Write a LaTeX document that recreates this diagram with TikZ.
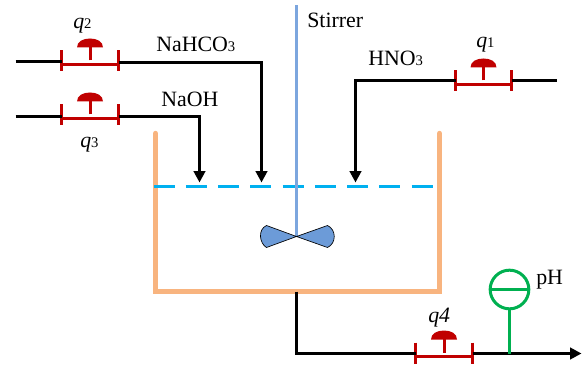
\documentclass[tikz,border=0pt]{standalone}
\usepackage{fontspec}
\setmainfont{Liberation Serif}
\usetikzlibrary{arrows.meta}
\definecolor{valvered}{HTML}{C00000}
\definecolor{tankor}{HTML}{F8B47F}
\definecolor{waterblue}{HTML}{00B0F0}
\definecolor{stirblue}{HTML}{7CA6DE}
\definecolor{bladeblue}{HTML}{6C9BD8}
\definecolor{phgreen}{HTML}{00B050}
\tikzset{
  pipe/.style={draw=black,line width=2.25pt,line cap=butt,line join=miter},
  feed/.style={pipe,-{Triangle[length=8.5pt,width=8.5pt]}},
  valveline/.style={draw=valvered,line width=2.25pt},
  label/.style={inner sep=0pt,font=\fontsize{16.4}{18}\selectfont,text=black},
}
\newcommand{\smalldigit}[1]{{\fontsize{11}{12}\selectfont #1}}
\newcommand{\myvalve}[4]{% name, left x, right x, tick top y (px)
  \pgfmathsetmacro{\vmid}{(#2+#3)/2}
  \coordinate (#1l) at (#2,#4+14);
  \coordinate (#1r) at (#3,#4+14);
  \coordinate (#1stem) at (\vmid,#4+10);
  \draw[valveline] (#2,#4) -- (#2,#4+21);
  \draw[valveline] (#3,#4) -- (#3,#4+21);
  \draw[valveline] (#1l) -- (#1r);
  \draw[valveline] (#1stem) -- (\vmid,#4-4);
  \fill[valvered] (\vmid-13,#4-3) .. controls (\vmid-13,#4-9) and (\vmid-7,#4-12) .. (\vmid,#4-12)
     .. controls (\vmid+7,#4-12) and (\vmid+13,#4-9) .. (\vmid+13,#4-3) -- cycle;
}
\begin{document}
\begin{tikzpicture}[x=0.75pt,y=-0.75pt]
\useasboundingbox (0,0) rectangle (585,367);
\begin{scope}[shift={(0.5,0.5)}]
% tank
\coordinate (t1) at (155,133); \coordinate (t2) at (155,291);
\coordinate (t3) at (439,291); \coordinate (t4) at (439,133);
\draw[tankor,line width=4.1pt,line join=miter,line cap=round] (t1) -- (t2) -- (t3) -- (t4);
% water
\coordinate (w1) at (153,186); \coordinate (w2) at (435,186);
\draw[waterblue,line width=2.25pt,dash pattern=on 15.8pt off 8.4pt] (w1) -- (w2);
% stirrer
\coordinate (s1) at (296,5); \coordinate (s2) at (296,236);
\draw[stirblue,line width=2.25pt] (s1) -- (s2);
\draw[black,fill=bladeblue,line width=0.5pt,line join=round] (s2) -- (266,225)
   .. controls (257,229) and (259,243) .. (266,247) -- (s2) -- (327,247)
   .. controls (336,243) and (336,229) .. (327,225) -- cycle;
% valves
\myvalve{vb}{61}{118}{50}
\myvalve{vc}{61}{118}{104}
\myvalve{va}{455}{511}{70}
\myvalve{vd}{415}{472}{342}
% pipes
\coordinate (p2a) at (15,61); \coordinate (p2b) at (61,61);
\coordinate (p2c) at (118,62); \coordinate (p2d) at (261,62); \coordinate (p2e) at (261,182);
\draw[pipe] (p2a) -- (p2b);
\draw[feed] (p2c) -- (p2d) -- (p2e);
\coordinate (p3a) at (15,116); \coordinate (p3b) at (61,116);
\coordinate (p3c) at (118,116); \coordinate (p3d) at (199,116); \coordinate (p3e) at (199,182);
\draw[pipe] (p3a) -- (p3b);
\draw[feed] (p3c) -- (p3d) -- (p3e);
\coordinate (p1a) at (556,80); \coordinate (p1b) at (511,80);
\coordinate (p1c) at (455,80); \coordinate (p1d) at (355,80); \coordinate (p1e) at (355,182);
\draw[pipe] (p1a) -- (p1b);
\draw[feed] (p1c) -- (p1d) -- (p1e);
\coordinate (o1) at (296,291); \coordinate (o2) at (296,353); \coordinate (o3) at (415,353);
\coordinate (o4) at (472,353); \coordinate (o5) at (581,353);
\draw[pipe] (o1) -- (o2) -- (o3);
\draw[feed] (o4) -- (o5);
% pH sensor
\node[draw=phgreen,line width=2.25pt,circle,minimum size=29pt,inner sep=0pt] (ph) at (509,289) {};
\coordinate (phb) at (509,353);
\draw[phgreen,line width=2.25pt] (ph.west) -- (ph.east);
\draw[phgreen,line width=2.25pt] (ph.south) -- (phb);
\end{scope}
% labels
\node[label,anchor=base west] (lq2) at (73,29) {\textit{q}\smalldigit{2}};
\node[label,anchor=base west] (lq3) at (80,148) {\textit{q}\smalldigit{3}};
\node[label,anchor=base west] (lq1) at (476,48) {\textit{q}\smalldigit{1}};
\node[label,anchor=base west] (lq4) at (428,322) {\textit{q4}};
\node[label,anchor=base west] (lna) at (156,52) {NaHCO\smalldigit{3}};
\node[label,anchor=base west] (lnaoh) at (161,107) {NaOH};
\node[label,anchor=base west] (lhno) at (368,66) {HNO\smalldigit{3}};
\node[label,anchor=base west] (lst) at (307,28) {Stirrer};
\node[label,anchor=base west] (lph) at (536,284) {pH};
\end{tikzpicture}
\end{document}
